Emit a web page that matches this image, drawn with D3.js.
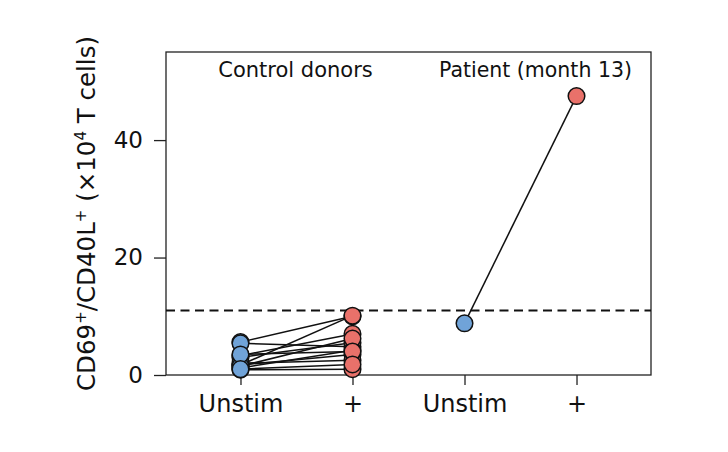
<!DOCTYPE html>
<html>
<head>
<meta charset="utf-8">
<script src="https://cdn.jsdelivr.net/npm/d3@7"></script>
<style>
  body { margin: 0; background: #fff; }
  svg { font-family: "DejaVu Sans", sans-serif; }
</style>
</head>
<body>
<svg id="chart" width="728" height="452"></svg>
<script>
// x categories and their tick labels
const groups = ["ctrlUnstim", "ctrlStim", "patUnstim", "patStim"];
const groupLabels = ["Unstim", "+", "Unstim", "+"];
const yTicks = [0, 20, 40];

// control donors, paired values (unstimulated vs stimulated)
const controlUnstim = [5.6, 1.7, 5.4, 3.3, 3.0, 1.7, 1.2, 2.0, 0.9, 1.5, 3.5, 1.0];
const controlStim   = [10.0, 10.1, 4.8, 7.0, 5.5, 3.5, 4.2, 2.5, 1.0, 6.2, 4.0, 1.8];

// patient, month 13
const patientUnstim = [8.8];
const patientStim   = [47.5];

const threshold = 11;

const svg = d3.select("#chart");
const width = 728, height = 452;
const margin = { top: 52, right: 77, bottom: 77, left: 166 };
const blue = "#70a3d8", red = "#e9716a";

const x = d3.scalePoint().domain(groups)
  .range([margin.left, width - margin.right]).padding(0.665);
const y = d3.scaleLinear().domain([0, 55])
  .range([height - margin.bottom, margin.top]);

// frame
svg.append("rect")
  .attr("x", margin.left).attr("y", margin.top)
  .attr("width", width - margin.left - margin.right)
  .attr("height", height - margin.top - margin.bottom)
  .attr("fill", "none").attr("stroke", "#222").attr("stroke-width", 1.3);

// axes
const yAxis = svg.append("g").attr("transform", `translate(${margin.left},0)`)
  .call(d3.axisLeft(y).tickValues(yTicks).tickSize(12).tickPadding(11));
yAxis.select(".domain").remove();
yAxis.selectAll("line").attr("stroke", "#222").attr("stroke-width", 1.3);
yAxis.selectAll("text").attr("font-size", 23).attr("fill", "#111")
  .attr("font-family", "DejaVu Sans");

const xAxis = svg.append("g").attr("transform", `translate(0,${height - margin.bottom})`)
  .call(d3.axisBottom(x).tickSize(10).tickPadding(10)
    .tickFormat((d, i) => groupLabels[i]));
xAxis.select(".domain").remove();
xAxis.selectAll("line").attr("stroke", "#222").attr("stroke-width", 1.3);
xAxis.selectAll("text").attr("font-size", 24).attr("fill", "#111")
  .attr("font-family", "DejaVu Sans");

// y title
const title = svg.append("text")
  .attr("transform", `translate(95,${(margin.top + height - margin.bottom) / 2}) rotate(-90)`)
  .attr("text-anchor", "middle").attr("font-size", 24.5).attr("fill", "#111");
title.append("tspan").text("CD69");
title.append("tspan").attr("baseline-shift", "super").attr("font-size", 15).text("+");
title.append("tspan").text("/CD40L");
title.append("tspan").attr("baseline-shift", "super").attr("font-size", 15).text("+");
title.append("tspan").text(" (×10");
title.append("tspan").attr("baseline-shift", "super").attr("font-size", 15).text("4");
title.append("tspan").text(" T cells)");

// threshold
svg.append("line")
  .attr("x1", margin.left).attr("x2", width - margin.right)
  .attr("y1", y(threshold)).attr("y2", y(threshold))
  .attr("stroke", "#111").attr("stroke-width", 2).attr("stroke-dasharray", "9,5.5");

// group labels
svg.append("text").attr("x", (x("ctrlUnstim") + x("ctrlStim")) / 2 - 1).attr("y", 77)
  .attr("text-anchor", "middle").attr("font-size", 21).attr("fill", "#111").text("Control donors");
svg.append("text").attr("x", width - margin.right - 19).attr("y", 77)
  .attr("text-anchor", "end").attr("font-size", 20.5).attr("fill", "#111").text("Patient (month 13)");

// paired lines
const pairs = controlUnstim.map((v, i) => ({ a: "ctrlUnstim", b: "ctrlStim", va: v, vb: controlStim[i] }))
  .concat(patientUnstim.map((v, i) => ({ a: "patUnstim", b: "patStim", va: v, vb: patientStim[i] })));

svg.append("g").selectAll("line").data(pairs).join("line")
  .attr("x1", d => x(d.a)).attr("y1", d => y(d.va))
  .attr("x2", d => x(d.b)).attr("y2", d => y(d.vb))
  .attr("stroke", "#111").attr("stroke-width", 1.5);

// points
const points = [];
controlUnstim.forEach(v => points.push({ g: "ctrlUnstim", v, c: blue }));
controlStim.forEach(v => points.push({ g: "ctrlStim", v, c: red }));
patientUnstim.forEach(v => points.push({ g: "patUnstim", v, c: blue }));
patientStim.forEach(v => points.push({ g: "patStim", v, c: red }));

svg.append("g").selectAll("circle").data(points).join("circle")
  .attr("cx", d => x(d.g)).attr("cy", d => y(d.v)).attr("r", 8.3)
  .attr("fill", d => d.c).attr("stroke", "#111").attr("stroke-width", 1.5);
</script>
</body>
</html>
